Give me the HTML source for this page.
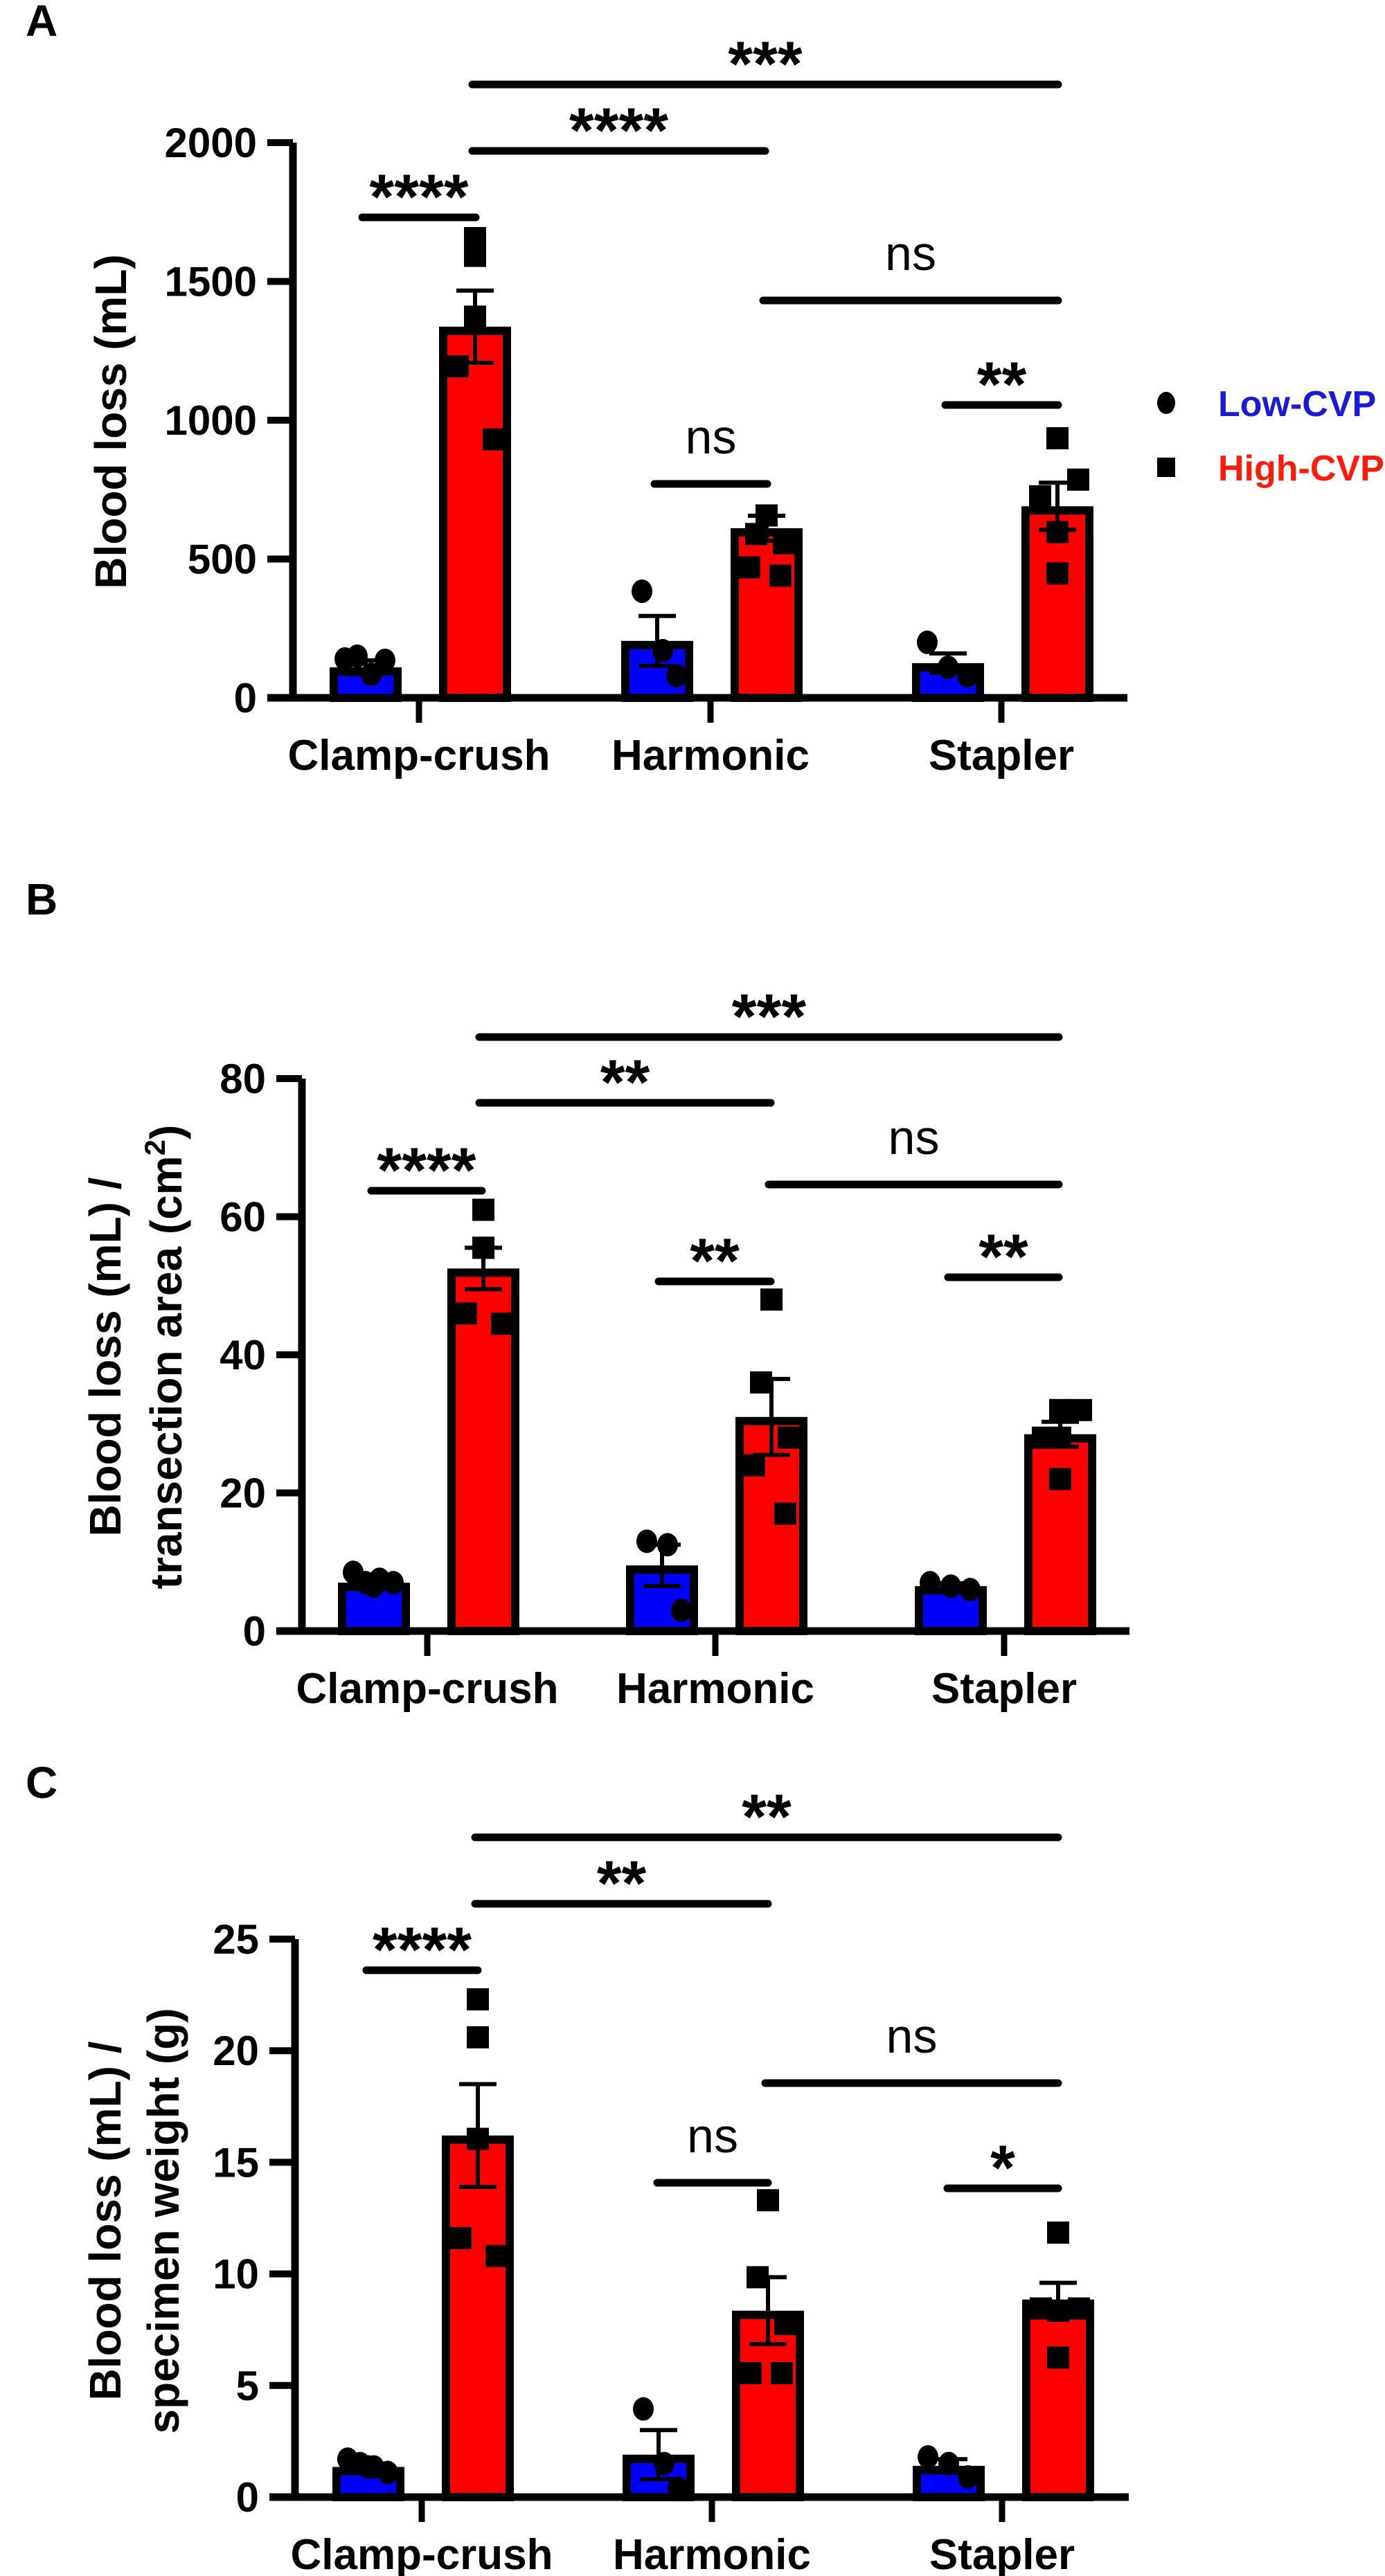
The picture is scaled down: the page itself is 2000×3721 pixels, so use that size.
<!DOCTYPE html>
<html><head><meta charset="utf-8">
<style>
html,body{margin:0;padding:0;background:#fff;}
svg{display:block;}
text{font-family:"Liberation Sans",Arial,sans-serif;}
</style></head>
<body>
<svg id="fig" width="2000" height="3721" viewBox="0 0 2000 3721" xmlns="http://www.w3.org/2000/svg"></svg>
<script>
// ---- Data ----
const categories = ["Clamp-crush","Harmonic","Stapler"];
// Panel A: Blood loss (mL)
const aLowMean = [110, 205, 125];
const aLowSem = [25, 90, 35];
const aHighMean = [1337, 611, 690];
const aHighSem = [130, 45, 85];
const aLowPts = [[140,150,85,135],[384,170,80],[200,110,80]];
const aHighPts = [[1656,1592,1373,1194,931],[657,590,557,470,440],[935,786,726,597,448]];
const aTicks = [0,500,1000,1500,2000];
// Panel B: Blood loss / transection area
const bLowMean = [7, 9.5, 6.5];
const bLowSem = [0.5, 3, 0.4];
const bHighMean = [52.5, 31, 28.5];
const bHighSem = [3, 5.5, 1.8];
const bLowPts = [[8.5,7,7.5,7,6.5],[13,12.5,3],[7,6.5,6]];
const bHighPts = [[61,55.5,55.5,46,44.5],[48,36,28,24,17],[32,32,28,28,22]];
const bTicks = [0,20,40,60,80];
// Panel C: Blood loss / specimen weight
const cLowMean = [1.35, 1.9, 1.4];
const cLowSem = [0.15, 1.1, 0.3];
const cHighMean = [16.2, 8.35, 8.85];
const cHighSem = [2.3, 1.5, 0.75];
const cLowPts = [[1.7,1.5,1.35,1.1,1.35],[3.95,1.5,0.4],[1.8,1.5,0.9]];
const cHighPts = [[22.3,20.6,16.05,11.6,10.8],[13.3,9.85,7.75,5.55,5.55],[11.85,8.45,8.45,8.35,6.25]];
const cTicks = [0,5,10,15,20,25];

const NS = "http://www.w3.org/2000/svg";
const svg = document.getElementById("fig");
function el(tag, attrs, parent){
  const e = document.createElementNS(NS, tag);
  for (const k in attrs) e.setAttribute(k, attrs[k]);
  (parent||svg).appendChild(e);
  return e;
}
const jitLow = [[-30,-12,8,28,0],[-22,8,28],[-30,0,28]];
const jitHigh = [[0,0,0,-25,27],[0,-15,25,-25,20],[0,30,-25,0,0]];

function panel(cfg){
  const g = el("g", {});
  
  
  const yScale = v => cfg.y0 - (v / cfg.yMax) * (cfg.y0 - cfg.yTop);
  // letter
  const L = el("text", {x:37, y:cfg.letterY, "font-size":64, "font-weight":"bold"}, g);
  L.textContent = cfg.letter;
  
  
  // bars
  for (let i=0;i<categories.length;i++){
    const cx = cfg.ticks[i];
    [[cfg.lowMean,cfg.lowSem,cfg.lowPts,-77,"#0000ff","circle",jitLow],[cfg.highMean,cfg.highSem,cfg.highPts,81,"#ff0000","square",jitHigh]].forEach(s=>{
      const [mean,sem,pts,off,col,shape,jit] = s;
      const bx = cx+off;
      const top = yScale(mean[i]);
      const r = el("rect", {x:bx-46, y:top+6, width:92, height:cfg.y0-top-6, fill:col, stroke:"#000", "stroke-width":12}, g);
      
      
      pts[i].forEach((v,j)=>{
        const py = yScale(v);
        const px = bx + (jit[i][j]||0);
        let p;
        if (shape==="circle") p = el("ellipse", {cx:px, cy:py, rx:15, ry:17, fill:"#000"}, g);
        else p = el("rect", {x:px-16, y:py-16, width:32, height:32, fill:"#000"}, g);
        
        
      });
      const eh = yScale(mean[i]+sem[i]), el2 = yScale(mean[i]-sem[i]);
      const eb = el("path", {d:`M${bx},${eh}V${el2}M${bx-27},${eh}H${bx+27}M${bx-27},${el2}H${bx+27}`, stroke:"#000", "stroke-width":6, fill:"none"}, g);
      
      
    });
  }
  // axes
  const ya = el("path", {d:`M${cfg.axisX},${cfg.yTop}V${cfg.y0}`, stroke:"#000", "stroke-width":11}, g);
  
  
  const xa = el("path", {d:`M${cfg.axisX-37},${cfg.y0}H${cfg.xEnd}`, stroke:"#000", "stroke-width":11}, g);
  
  
  cfg.yTicks.forEach(t=>{
    const y = yScale(t);
    el("path", {d:`M${cfg.axisX-37},${y}H${cfg.axisX}`, stroke:"#000", "stroke-width":10}, g);
    const tx = el("text", {x:cfg.axisX-52, y:y+21, "font-size":60, "font-weight":"bold", "text-anchor":"end"}, g);
    tx.textContent = t;
    
    
  });
  categories.forEach((c,i)=>{
    el("path", {d:`M${cfg.ticks[i]},${cfg.y0}V${cfg.y0+36}`, stroke:"#000", "stroke-width":9}, g);
    const tx = el("text", {x:cfg.ticks[i], y:cfg.y0+104, "font-size":62, "font-weight":"bold", "text-anchor":"middle"}, g);
    tx.textContent = c;
    
    
  });
  // y title
  cfg.yTitle.forEach((line,k)=>{
    const t = el("text", {x:0, y:0, "font-size":64, "font-weight":"bold", "text-anchor":"middle", transform:`translate(${cfg.titleX[k]+22},${cfg.titleY}) rotate(-90)`}, g);
    t.innerHTML = line;
    
    
  });
  // significance
  cfg.sig.forEach(s=>{
    const [x1,x2,y,label] = s;
    const ln = el("line", {x1:x1, x2:x2, y1:y, y2:y, stroke:"#000", "stroke-width":11, "stroke-linecap":"round"}, g);
    
    
    const isNs = label==="ns";
    const t = el("text", {x:(x1+x2)/2, y: isNs ? y-44 : y+2, "font-size": isNs?70:92, "font-weight": isNs?"normal":"bold", "text-anchor":"middle"}, g);
    t.textContent = label;
    
    
  });
}

panel({name:"panel-a", letter:"A", letterY:52, axisX:423, y0:1008, yTop:206, yMax:2000, xEnd:1628, ticks:[605,1026,1446],
  lowMean:aLowMean, lowSem:aLowSem, highMean:aHighMean, highSem:aHighSem, lowPts:aLowPts, highPts:aHighPts, yTicks:aTicks,
  yTitle:["Blood loss (mL)"], titleX:[160], titleY:609,
  sig:[[682,1528,122,"***"],[682,1105,218,"****"],[523,687,314,"****"],[1102,1528,434,"ns"],[1365,1528,585,"**"],[945,1108,699,"ns"]]});
panel({name:"panel-b", letter:"B", letterY:1321, axisX:436, y0:2356, yTop:1558, yMax:80, xEnd:1631, ticks:[617,1033,1450],
  lowMean:bLowMean, lowSem:bLowSem, highMean:bHighMean, highSem:bHighSem, lowPts:bLowPts, highPts:bHighPts, yTicks:bTicks,
  yTitle:["Blood loss (mL) /","transection area (cm<tspan font-size='42' dy='-24'>2</tspan><tspan dy='24'>)</tspan>"], titleX:[152,240], titleY:1960,
  sig:[[692,1529,1498,"***"],[692,1113,1593,"**"],[536,696,1720,"****"],[1110,1529,1711,"ns"],[951,1113,1851,"**"],[1369,1529,1845,"**"]]});
panel({name:"panel-c", letter:"C", letterY:2597, axisX:426, y0:3607, yTop:2801, yMax:25, xEnd:1630, ticks:[609,1028,1447],
  lowMean:cLowMean, lowSem:cLowSem, highMean:cHighMean, highSem:cHighSem, lowPts:cLowPts, highPts:cHighPts, yTicks:cTicks,
  yTitle:["Blood loss (mL) /","specimen weight (g)"], titleX:[152,236], titleY:3208,
  sig:[[686,1528,2654,"**"],[686,1109,2750,"**"],[529,690,2846,"****"],[1105,1528,3009,"ns"],[949,1109,3153,"ns"],[1368,1528,3161,"*"]]});

// legend
const lg = el("g", {});


const lc = el("ellipse", {cx:1684, cy:582, rx:13, ry:16, fill:"#000"}, lg);


const lt1 = el("text", {x:1759, y:601, "font-size":52, "font-weight":"bold", fill:"#1a1adb"}, lg);
lt1.textContent = "Low-CVP";


const ls = el("rect", {x:1671, y:661, width:26, height:28, fill:"#000"}, lg);


const lt2 = el("text", {x:1759, y:694, "font-size":52, "font-weight":"bold", fill:"#ff1a0a"}, lg);
lt2.textContent = "High-CVP";


</script>
</body></html>
